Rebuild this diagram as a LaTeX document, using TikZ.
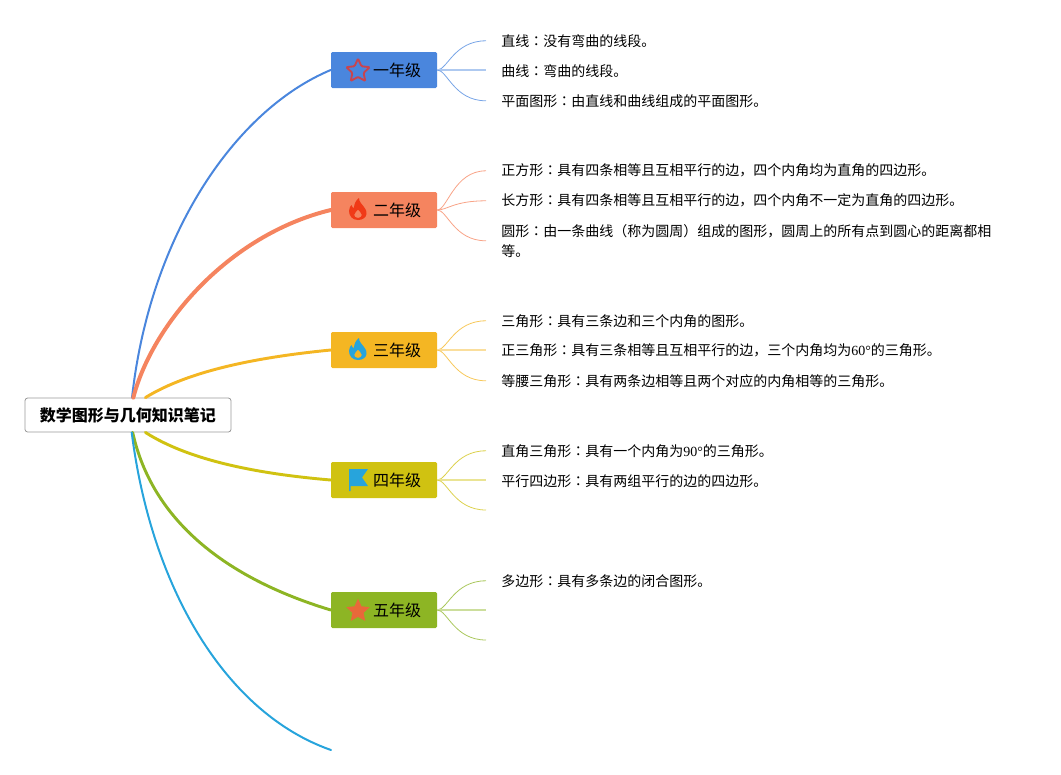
\documentclass[tikz,border=0pt]{standalone}
\usepackage{fontspec}
\setmainfont{Noto Sans CJK SC}
\newfontfamily\colonfont{Noto Sans CJK TC}
\newfontfamily\digitfont{Liberation Serif}
\usetikzlibrary{shapes.geometric}
\newcommand{\mh}{{\colonfont ：}}
\newcommand{\nudge}[1]{\raisebox{-0.75pt}{#1}}
\definecolor{gradeone}{HTML}{4A86DD}
\definecolor{gradetwo}{HTML}{F5845F}
\definecolor{gradethree}{HTML}{F4B623}
\definecolor{gradefour}{HTML}{D0C211}
\definecolor{gradefive}{HTML}{8DB524}
\definecolor{gradesix}{HTML}{27A4DC}
\definecolor{staredge}{HTML}{C8444F}
\definecolor{starsolid}{HTML}{E8693A}
\definecolor{flamered}{HTML}{F03A17}
\tikzset{
  rootbox/.style={draw=black!40, fill=white, rounded corners=2pt, line width=0.6pt,
    minimum width=154.5pt, minimum height=25.5pt, inner sep=0pt,
    font=\fontsize{12}{15}\selectfont\bfseries},
  gradebox/.style={fill=#1, rounded corners=1pt, text width=55.5pt, inner xsep=12pt,
    minimum height=27pt, inner ysep=0pt, align=right, text=black,
    font=\fontsize{12}{15}\selectfont},
  leaf/.style={anchor=west, inner xsep=11.25pt, inner ysep=0pt, align=left, text=black,
    font=\fontsize{10.5}{15}\selectfont},
  trunk/.style={draw=#1, line cap=round},
  twig/.style={draw=#1!75, line width=0.6pt},
  twigmid/.style={draw=#1!45, line width=1.1pt},
  staricon/.style={star, star points=5, star point ratio=2.1, inner sep=0pt, minimum size=18.5pt},
  flame/.pic={
    \fill[#1, even odd rule] (0,11) .. controls (-5.5,11) and (-9,7) .. (-9,2)
      .. controls (-9,-1) and (-7.5,-3) .. (-6.5,-4) .. controls (-6,-2) and (-5,-1) .. (-4,-1)
      .. controls (-4,-5) and (-2,-9) .. (1,-11) .. controls (1,-7) and (4,-5) .. (6,-2)
      .. controls (8,1) and (9,3) .. (8.5,5) .. controls (8,8.5) and (4.5,11) .. (0,11) -- cycle
      (0,9) .. controls (-2.5,9) and (-3.8,7.5) .. (-3.8,5.8) .. controls (-3.8,4.2) and (-1.5,2.5) .. (0,0.5)
      .. controls (1.5,2.5) and (3.8,4.2) .. (3.8,5.8) .. controls (3.8,7.5) and (2.5,9) .. (0,9) -- cycle;
  }
}
\begin{document}
\begin{tikzpicture}[x=0.75pt,y=-0.75pt]
    \useasboundingbox (0,0) rectangle (1061,775);
    % root and grades
    \node[rootbox] (root) at (128,415) {\nudge{数学图形与几何知识笔记}};
    \node[gradebox=gradeone] (one) at (384,70) {\nudge{一年级}};
    \node[gradebox=gradetwo] (two) at (384,210) {\nudge{二年级}};
    \node[gradebox=gradethree] (three) at (384,350) {\nudge{三年级}};
    \node[gradebox=gradefour] (four) at (384,480) {\nudge{四年级}};
    \node[gradebox=gradefive] (five) at (384,610) {\nudge{五年级}};
    \coordinate (six) at (331,750);
    % icons
    \node[staricon, draw=staredge, line width=1.4pt, rounded corners=0.8pt] (staropen) at (358,71) {};
    \pic at (358,209) {flame=flamered};
    \pic at (358,349) {flame=gradesix};
    \fill[gradesix] (349,469) -- (368,469) -- (362,477.5) -- (368,486) -- (350.5,486) -- (350.5,491) -- (349,491) -- cycle;
    \node[staricon, fill=starsolid] (starfull) at (358,611) {};
    % leaves, first grade
    \node[leaf] (a1) at (486,40.8) {直线\mh{}没有弯曲的线段。};
    \node[leaf] (a2) at (486,70.8) {曲线\mh{}弯曲的线段。};
    \node[leaf] (a3) at (486,100.8) {平面图形\mh{}由直线和曲线组成的平面图形。};
    % second grade
    \node[leaf] (b1) at (486,170.8) {正方形\mh{}具有四条相等且互相平行的边，四个内角均为直角的四边形。};
    \node[leaf] (b2) at (486,200.8) {长方形\mh{}具有四条相等且互相平行的边，四个内角不一定为直角的四边形。};
    \node[leaf] (b3) at (486,240.8) {圆形\mh{}由一条曲线（称为圆周）组成的图形，圆周上的所有点到圆心的距离都相\\等。};
    % third grade
    \node[leaf] (c1) at (486,320.8) {三角形\mh{}具有三条边和三个内角的图形。};
    \node[leaf] (c2) at (486,350.8) {正三角形\mh{}具有三条相等且互相平行的边，三个内角均为{\digitfont 60°}的三角形。};
    \node[leaf] (c3) at (486,380.8) {等腰三角形\mh{}具有两条边相等且两个对应的内角相等的三角形。};
    % fourth grade
    \node[leaf] (d1) at (486,450.8) {直角三角形\mh{}具有一个内角为{\digitfont 90°}的三角形。};
    \node[leaf] (d2) at (486,480.8) {平行四边形\mh{}具有两组平行的边的四边形。};
    \coordinate (d3) at (486,510);
    % fifth grade
    \node[leaf] (e1) at (486,580.8) {多边形\mh{}具有多条边的闭合图形。};
    \coordinate (e2) at (486,610);
    \coordinate (e3) at (486,640);
    % trunks
    \draw[trunk=gradeone, line width=1.5pt] (root.77) .. controls (150,235) and (235,110) .. (one.west);
    \draw[trunk=gradetwo, line width=3pt] (root.73) .. controls (152,325) and (228,235) .. (two.west);
    \draw[trunk=gradethree, line width=2.2pt] (root.45) .. controls (190,370) and (260,357) .. (three.west);
    \draw[trunk=gradefour, line width=2.2pt] (root.-45) .. controls (190,461) and (260,474) .. (four.west);
    \draw[trunk=gradefive, line width=2.2pt] (root.-75) .. controls (152,520) and (225,578) .. (five.west);
    \draw[trunk=gradesix, line width=1.5pt] (root.-78) .. controls (152,592) and (228,714) .. (six);
    % twigs
    \draw[twig=gradeone] (one.east) .. controls +(10,0) and +(-32,0) .. (a1.west);
    \draw[twigmid=gradeone] (one.east) -- (one.east -| a2.west);
    \draw[twig=gradeone] (one.east) .. controls +(10,0) and +(-32,0) .. (a3.west);
    \draw[twig=gradetwo] (two.east) .. controls +(10,0) and +(-32,0) .. (b1.west);
    \draw[twig=gradetwo] (two.east) .. controls +(10,0) and +(-32,0) .. (b2.west);
    \draw[twig=gradetwo] (two.east) .. controls +(10,0) and +(-32,0) .. (b3.west);
    \draw[twig=gradethree] (three.east) .. controls +(10,0) and +(-32,0) .. (c1.west);
    \draw[twigmid=gradethree] (three.east) -- (three.east -| c2.west);
    \draw[twig=gradethree] (three.east) .. controls +(10,0) and +(-32,0) .. (c3.west);
    \draw[twig=gradefour] (four.east) .. controls +(10,0) and +(-32,0) .. (d1.west);
    \draw[twigmid=gradefour] (four.east) -- (four.east -| d2.west);
    \draw[twig=gradefour] (four.east) .. controls +(10,0) and +(-32,0) .. (d3);
    \draw[twig=gradefive] (five.east) .. controls +(10,0) and +(-32,0) .. (e1.west);
    \draw[twigmid=gradefive] (five.east) -- (e2);
    \draw[twig=gradefive] (five.east) .. controls +(10,0) and +(-32,0) .. (e3);
  \end{tikzpicture}
\end{document}
